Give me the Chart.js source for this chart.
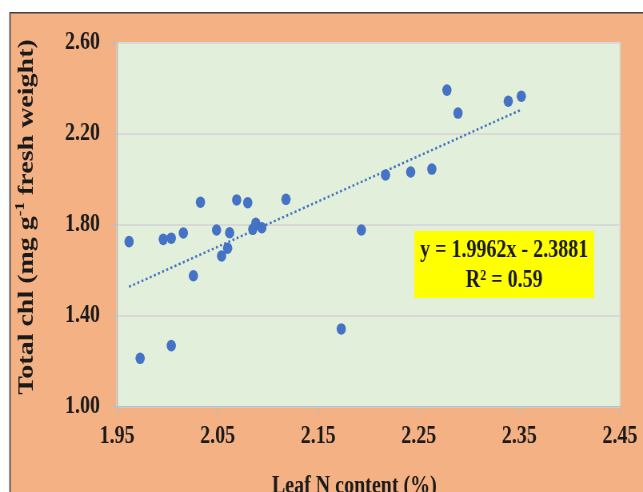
<!DOCTYPE html>
<html>
<head>
<meta charset="utf-8">
<title>Leaf N vs total chlorophyll</title>
<script src="https://cdn.jsdelivr.net/npm/chart.js@4.4.1/dist/chart.umd.min.js"></script>
<style>
  html, body { margin: 0; padding: 0; background: #fff; overflow: hidden; }
  /* the figure is drawn wide and squeezed horizontally */
  #wrap { width: 804px; height: 492px; transform: scaleX(0.79975); transform-origin: 0 0; }
</style>
</head>
<body>
<div id="wrap"><canvas id="chlChart" width="804" height="492"></canvas></div>
<script>
// leaf N content (%) and total chlorophyll (mg g-1 fresh weight) per sample
const leafN = [1.962, 1.973, 1.996, 2.004, 2.004, 2.016, 2.026, 2.033, 2.049, 2.054, 2.060, 2.062, 2.069, 2.080,
               2.085, 2.088, 2.094, 2.118, 2.173, 2.193, 2.217, 2.242, 2.263, 2.278, 2.289, 2.339, 2.352];
const totalChl = [1.727, 1.214, 1.737, 1.742, 1.270, 1.765, 1.577, 1.900, 1.778, 1.664, 1.698, 1.766, 1.910, 1.898,
                  1.781, 1.807, 1.788, 1.913, 1.343, 1.778, 2.020, 2.033, 2.046, 2.393, 2.292, 2.344, 2.366];
const xTicks = [1.95, 2.05, 2.15, 2.25, 2.35, 2.45];
const yTicks = [1.00, 1.40, 1.80, 2.20, 2.60];

// linear fit
const fitSlope = 1.9962;
const fitIntercept = -2.3881;
const fitR2 = 0.59;

const FONT = '"Liberation Serif", "Times New Roman", serif';
const INK = '#1a1a1a';
const BLUE = '#4472C4';

// equation label box, in data units
const eqBox = { xMin: 2.2456, xMax: 2.4242, yMin: 1.479, yMax: 1.774 };

const points = leafN.map((x, i) => ({ x: x, y: totalChl[i] }));
const xLo = Math.min(...leafN), xHi = Math.max(...leafN);
const fitLine = [xLo, xHi].map(x => ({ x: x, y: fitSlope * x + fitIntercept }));

const chartDecor = {
    id: 'chartDecor',
    beforeDraw(chart) {
        const { ctx, width, height, chartArea: a } = chart;
        ctx.save();
        ctx.fillStyle = '#ffffff';
        ctx.fillRect(0, 0, width, height);
        ctx.fillStyle = '#F4B183';
        ctx.fillRect(12.5, 12.7, width, height);
        ctx.strokeStyle = '#404040';
        ctx.lineWidth = 1.6;
        ctx.beginPath();
        ctx.moveTo(12.5, height);
        ctx.lineTo(12.5, 12.7);
        ctx.lineTo(width, 12.7);
        ctx.stroke();
        ctx.fillStyle = '#E2EFDA';
        ctx.fillRect(a.left, a.top, a.right - a.left, a.bottom - a.top);
        ctx.strokeStyle = '#D9D9D9';
        ctx.lineWidth = 1.5;
        ctx.strokeRect(a.left, a.top, a.right - a.left, a.bottom - a.top);
        ctx.restore();
    },
    afterDraw(chart) {
        const { ctx, scales: { x, y } } = chart;
        ctx.save();

        // equation box
        const bx = x.getPixelForValue(eqBox.xMin), bx2 = x.getPixelForValue(eqBox.xMax);
        const by = y.getPixelForValue(eqBox.yMax), by2 = y.getPixelForValue(eqBox.yMin);
        ctx.fillStyle = '#FFFF00';
        ctx.fillRect(bx, by, bx2 - bx, by2 - by);
        ctx.fillStyle = INK;
        ctx.font = 'bold 25px ' + FONT;
        ctx.textAlign = 'center';
        ctx.textBaseline = 'middle';
        const cx = (bx + bx2) / 2;
        const sign = fitIntercept < 0 ? ' - ' : ' + ';
        ctx.fillText('y = ' + fitSlope.toFixed(4) + 'x' + sign + Math.abs(fitIntercept).toFixed(4), cx, by + 20);
        ctx.fillText('R\u00B2 = ' + fitR2.toFixed(2), cx, by + 50);

        // x axis title
        ctx.font = 'bold 25px ' + FONT;
        ctx.textBaseline = 'alphabetic';
        ctx.fillText('Leaf N content (%)', 443, 493);

        // y axis title with superscript
        const big = 'bold 28px ' + FONT, small = 'bold 17px ' + FONT;
        const parts = [['Total chl (mg g', big, 0], ['-1', small, -11], [' fresh weight)', big, 0]];
        let total = 0;
        parts.forEach(p => { ctx.font = p[1]; p.push(ctx.measureText(p[0]).width); total += p[3]; });
        ctx.translate(41, 217);
        ctx.rotate(-Math.PI / 2);
        ctx.textAlign = 'left';
        let pos = -total / 2;
        parts.forEach(p => {
            ctx.font = p[1];
            ctx.fillText(p[0], pos, p[2]);
            pos += p[3];
        });
        ctx.restore();
    }
};

new Chart(document.getElementById('chlChart'), {
    type: 'scatter',
    data: {
        datasets: [
            {
                type: 'line', label: 'fit', data: fitLine, order: 0,
                borderColor: BLUE, borderWidth: 2.5, borderDash: [2.5, 3],
                pointRadius: 0, fill: false
            },
            {
                label: 'Total chl', data: points, order: 1,
                backgroundColor: BLUE, borderColor: BLUE, pointRadius: 5.8, pointBorderWidth: 0
            }
        ]
    },
    options: {
        responsive: false,
        animation: false,
        devicePixelRatio: 1,
        layout: { padding: { top: 43, right: 27.75, left: 0, bottom: 0 } },
        plugins: { legend: { display: false }, tooltip: { enabled: false } },
        scales: {
            x: {
                type: 'linear', min: 1.95, max: 2.45,
                afterBuildTicks: s => { s.ticks = xTicks.map(v => ({ value: v })); },
                afterFit: s => { s.height = 85; },
                grid: { drawOnChartArea: false, drawTicks: true, tickLength: 7.5, tickColor: '#BFBFBF', tickWidth: 1.5 },
                border: { color: '#BFBFBF', width: 1.5 },
                ticks: {
                    color: INK, padding: 7, maxRotation: 0,
                    font: { family: FONT, size: 25, weight: 'bold' },
                    callback: v => Number(v).toFixed(2)
                }
            },
            y: {
                type: 'linear', min: 1.0, max: 2.6,
                afterBuildTicks: s => { s.ticks = yTicks.map(v => ({ value: v })); },
                afterFit: s => { s.width = 146.25; },
                grid: { color: '#D9D9D9', lineWidth: 2, tickLength: 7.5, tickColor: '#BFBFBF', tickWidth: 1.5 },
                border: { color: '#BFBFBF', width: 1.5 },
                ticks: {
                    color: INK, padding: 13.75,
                    font: { family: FONT, size: 25, weight: 'bold' },
                    callback: v => Number(v).toFixed(2)
                }
            }
        }
    },
    plugins: [chartDecor]
});
</script>
</body>
</html>
